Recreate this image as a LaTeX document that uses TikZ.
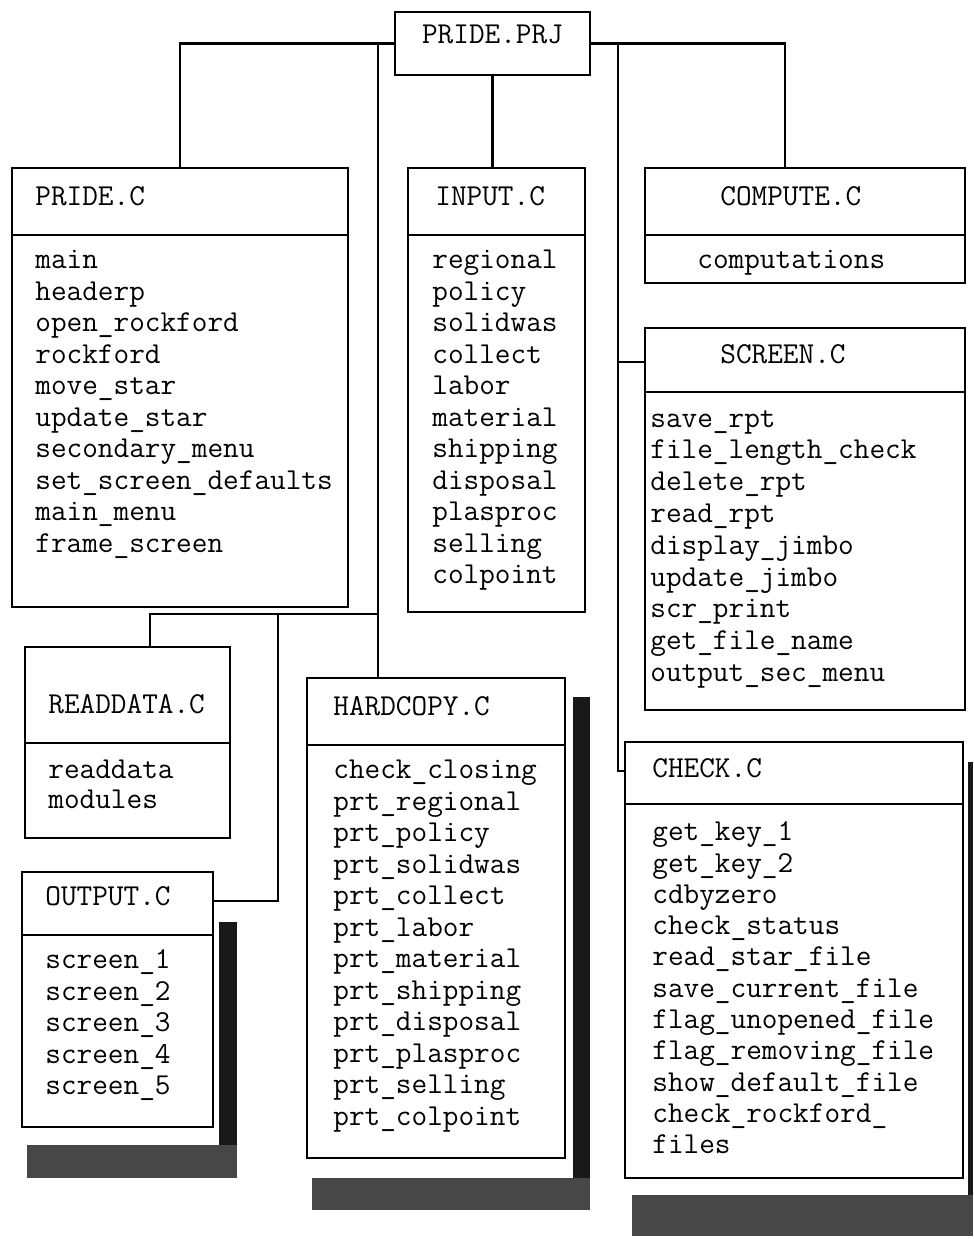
\documentclass[tikz,border=0pt]{standalone}
\usepackage{fontspec}
\usetikzlibrary{fit}

\begin{document}
\begin{tikzpicture}[x=0.02cm,y=-0.02cm,
  font=\ttfamily\fontsize{17.3}{18}\selectfont\addfontfeatures{FakeBold=1.3},
  modbox/.style={draw,line width=1.2pt,inner sep=0pt},
  entry/.style={anchor=mid west,inner sep=0pt},
  link/.style={line width=1.2pt},
  shadowdark/.style={fill=black!90},
  shadowgrey/.style={fill=black!72}]
  \useasboundingbox (0,0) rectangle (973,1239);

  % --- project file
  \node[modbox,fit={(395,12) (590,75)}] (prj) {PRIDE.PRJ};

  % --- shadows (drawn first, boxes sit on top)
  \fill[shadowdark] (219,922) rectangle (237,1178);
  \fill[shadowgrey] (27,1145) rectangle (237,1178);
  \fill[shadowdark] (573,697) rectangle (590,1210);
  \fill[shadowgrey] (312,1178) rectangle (590,1210);
  \fill[shadowdark] (968,762) rectangle (973,1195);
  \fill[shadowgrey] (632,1195) rectangle (973,1236);

  % --- PRIDE.C
  \node[modbox,fill=white,fit={(12,168) (348,607)}] (pride) {};
  \draw[link] (12,235) -- (348,235);
  \node[entry] at (35,202) {PRIDE.C};
  \foreach \f [count=\i] in {main,headerp,open\_rockford,rockford,move\_star,update\_star,
      secondary\_menu,set\_screen\_defaults,main\_menu,frame\_screen}
    \node[entry] at (35,233.5+31.5*\i) {\f};

  % --- INPUT.C
  \node[modbox,fill=white,fit={(408,168) (585,612)}] (input) {};
  \draw[link] (408,235) -- (585,235);
  \node[entry] at (435,202) {INPUT.C};
  \foreach \f [count=\i] in {regional,policy,solidwas,collect,labor,material,shipping,
      disposal,plasproc,selling,colpoint}
    \node[entry] at (432,233.5+31.5*\i) {\f};

  % --- COMPUTE.C
  \node[modbox,fill=white,fit={(645,168) (965,283)}] (compute) {};
  \draw[link] (645,235) -- (965,235);
  \node[entry] at (720,202) {COMPUTE.C};
  \node[entry] at (697,265) {computations};

  % --- SCREEN.C
  \node[modbox,fill=white,fit={(645,328) (965,710)}] (screen) {};
  \draw[link] (645,392) -- (965,392);
  \node[entry] at (720,360) {SCREEN.C};
  \foreach \f [count=\i] in {save\_rpt,file\_length\_check,delete\_rpt,read\_rpt,
      display\_jimbo,update\_jimbo,scr\_print,get\_file\_name,output\_sec\_menu}
    \node[entry] at (650,391.5+31.8*\i) {\f};

  % --- CHECK.C
  \node[modbox,fill=white,fit={(625,742) (963,1178)}] (check) {};
  \draw[link] (625,804) -- (963,804);
  \node[entry] at (652,774) {CHECK.C};
  \foreach \f [count=\i] in {get\_key\_1,get\_key\_2,cdbyzero,check\_status,read\_star\_file,
      save\_current\_file,flag\_unopened\_file,flag\_removing\_file,show\_default\_file,
      check\_rockford\_,files}
    \node[entry] at (652,805.7+31.3*\i) {\f};

  % --- READDATA.C
  \node[modbox,fill=white,fit={(25,647) (230,838)}] (readdata) {};
  \draw[link] (25,743) -- (230,743);
  \node[entry] at (48,710) {READDATA.C};
  \foreach \f [count=\i] in {readdata,modules}
    \node[entry] at (48,745+30*\i) {\f};

  % --- OUTPUT.C
  \node[modbox,fill=white,fit={(22,872) (213,1127)}] (output) {};
  \draw[link] (22,935) -- (213,935);
  \node[entry] at (45,902) {OUTPUT.C};
  \foreach \f [count=\i] in {screen\_1,screen\_2,screen\_3,screen\_4,screen\_5}
    \node[entry] at (45,933.5+31.5*\i) {\f};

  % --- HARDCOPY.C
  \node[modbox,fill=white,fit={(307,678) (565,1158)}] (hard) {};
  \draw[link] (307,745) -- (565,745);
  \node[entry] at (333,712) {HARDCOPY.C};
  \foreach \f [count=\i] in {check\_closing,prt\_regional,prt\_policy,prt\_solidwas,
      prt\_collect,prt\_labor,prt\_material,prt\_shipping,prt\_disposal,prt\_plasproc,
      prt\_selling,prt\_colpoint}
    \node[entry] at (333,743.5+31.5*\i) {\f};

  % --- connectors
  \coordinate (jl) at (378,43.5);
  \coordinate (jr) at (618,43.5);
  \coordinate (jb) at (378,614);
  \coordinate (jo) at (278,614);
  \coordinate (scrtap) at ([yshift=-0.7cm]screen.north west);
  \draw[link] (prj.west) -| (pride.north);
  \draw[link] (prj.east) -| ([xshift=-0.4cm]compute.north);
  \draw[link] (prj.south) -- (prj.south |- input.north);
  \draw[link] (jl) -- (jl |- hard.north);
  \draw[link] (jb) -| ([xshift=0.45cm]readdata.north);
  \draw[link] (jo) |- ([yshift=-0.6cm]output.north east);
  \draw[link] (jr) |- ([yshift=-0.6cm]check.north west);
  \draw[link] (scrtap) -- (jr |- scrtap);
\end{tikzpicture}
\end{document}
